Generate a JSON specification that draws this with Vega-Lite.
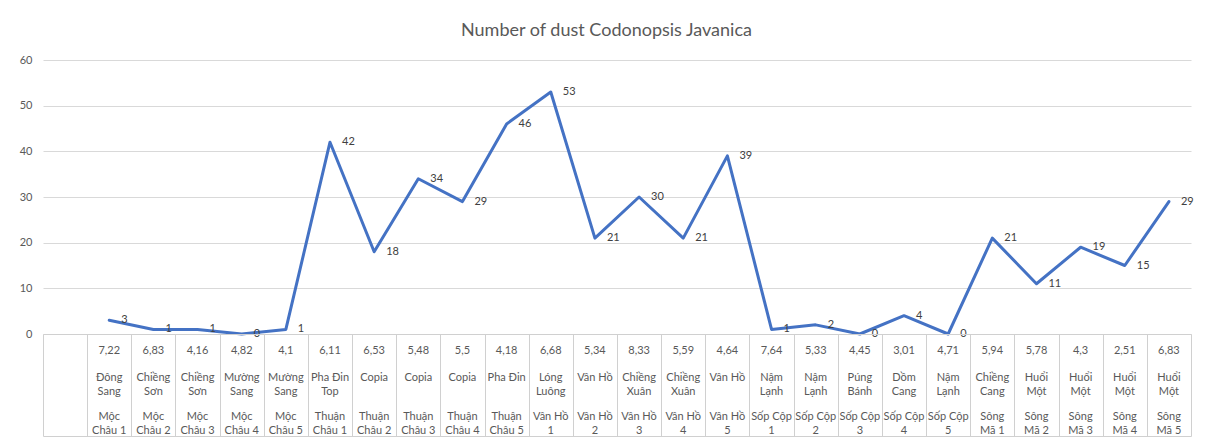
{
  "$schema": "https://vega.github.io/schema/vega-lite/v6.json",
  "autosize": {"type": "pad"},
  "padding": {"left": 19, "top": 22, "right": 0, "bottom": 0},
  "background": "white",
  "bounds": "flush",
  "spacing": 0,
  "title": {"text": "Number of dust Codonopsis Javanica", "font": "Lato", "fontSize": 18, "fontWeight": "normal", "color": "#595959", "anchor": "middle", "offset": 14},
  "config": {"font": "Lato", "view": {"stroke": null}},
  "data": {"values": [
    {"idx": 1, "val": 3, "num": "7,22", "name": "Đông\nSang", "site": "Mộc\nChâu 1"},
    {"idx": 2, "val": 1, "num": "6,83", "name": "Chiềng\nSơn", "site": "Mộc\nChâu 2"},
    {"idx": 3, "val": 1, "num": "4,16", "name": "Chiềng\nSơn", "site": "Mộc\nChâu 3"},
    {"idx": 4, "val": 0, "num": "4,82", "name": "Mường\nSang", "site": "Mộc\nChâu 4"},
    {"idx": 5, "val": 1, "num": "4,1", "name": "Mường\nSang", "site": "Mộc\nChâu 5"},
    {"idx": 6, "val": 42, "num": "6,11", "name": "Pha Đin\nTop", "site": "Thuận\nChâu 1"},
    {"idx": 7, "val": 18, "num": "6,53", "name": "Copia", "site": "Thuận\nChâu 2"},
    {"idx": 8, "val": 34, "num": "5,48", "name": "Copia", "site": "Thuận\nChâu 3"},
    {"idx": 9, "val": 29, "num": "5,5", "name": "Copia", "site": "Thuận\nChâu 4"},
    {"idx": 10, "val": 46, "num": "4,18", "name": "Pha Đin", "site": "Thuận\nChâu 5"},
    {"idx": 11, "val": 53, "num": "6,68", "name": "Lóng\nLuông", "site": "Vân Hồ\n1"},
    {"idx": 12, "val": 21, "num": "5,34", "name": "Vân Hồ", "site": "Vân Hồ\n2"},
    {"idx": 13, "val": 30, "num": "8,33", "name": "Chiềng\nXuân", "site": "Vân Hồ\n3"},
    {"idx": 14, "val": 21, "num": "5,59", "name": "Chiềng\nXuân", "site": "Vân Hồ\n4"},
    {"idx": 15, "val": 39, "num": "4,64", "name": "Vân Hồ", "site": "Vân Hồ\n5"},
    {"idx": 16, "val": 1, "num": "7,64", "name": "Nậm\nLạnh", "site": "Sốp Cộp\n1"},
    {"idx": 17, "val": 2, "num": "5,33", "name": "Nậm\nLạnh", "site": "Sốp Cộp\n2"},
    {"idx": 18, "val": 0, "num": "4,45", "name": "Púng\nBánh", "site": "Sốp Cộp\n3"},
    {"idx": 19, "val": 4, "num": "3,01", "name": "Dồm\nCang", "site": "Sốp Cộp\n4"},
    {"idx": 20, "val": 0, "num": "4,71", "name": "Nậm\nLạnh", "site": "Sốp Cộp\n5"},
    {"idx": 21, "val": 21, "num": "5,94", "name": "Chiềng\nCang", "site": "Sông\nMã 1"},
    {"idx": 22, "val": 11, "num": "5,78", "name": "Huổi\nMột", "site": "Sông\nMã 2"},
    {"idx": 23, "val": 19, "num": "4,3", "name": "Huổi\nMột", "site": "Sông\nMã 3"},
    {"idx": 24, "val": 15, "num": "2,51", "name": "Huổi\nMột", "site": "Sông\nMã 4"},
    {"idx": 25, "val": 29, "num": "6,83", "name": "Huổi\nMột", "site": "Sông\nMã 5"}
  ]},
  "vconcat": [
    {
      "width": 1148,
      "height": 274,
      "encoding": {
        "x": {"field": "idx", "type": "quantitative", "scale": {"domain": [-0.5, 25.5], "nice": false, "zero": false}, "axis": null},
        "y": {"field": "val", "type": "quantitative", "scale": {"domain": [0, 60], "nice": false},
              "axis": {"values": [0, 10, 20, 30, 40, 50, 60], "title": null, "domain": false, "ticks": false, "grid": true, "gridColor": "#d9d9d9", "gridWidth": 1, "labelColor": "#595959", "labelFont": "Lato", "labelFontSize": 11, "labelPadding": 11}}
      },
      "layer": [
        {"mark": {"type": "line", "color": "#4472C4", "strokeWidth": 3, "strokeJoin": "round", "strokeCap": "round"}},
        {"mark": {"type": "text", "align": "left", "baseline": "middle", "dx": 12, "font": "Lato", "fontSize": 11, "color": "#404040"},
         "encoding": {"text": {"field": "val", "type": "quantitative"}}}
      ]
    },
    {
      "width": 1148,
      "height": 102,
      "view": {"stroke": "#d0d0d0", "strokeWidth": 1},
      "encoding": {
        "x": {"field": "idx", "type": "quantitative", "scale": {"domain": [-0.5, 25.5], "nice": false, "zero": false},
              "axis": {"values": [0.5, 1.5, 2.5, 3.5, 4.5, 5.5, 6.5, 7.5, 8.5, 9.5, 10.5, 11.5, 12.5, 13.5, 14.5, 15.5, 16.5, 17.5, 18.5, 19.5, 20.5, 21.5, 22.5, 23.5, 24.5], "labels": false, "ticks": false, "domain": false, "title": null, "grid": true, "gridColor": "#d0d0d0", "gridWidth": 1}}
      },
      "layer": [
        {
          "transform": [{"fold": ["num", "site"], "as": ["key", "label"]}],
          "mark": {"type": "text", "align": "center", "baseline": "middle", "lineBreak": "\n", "lineHeight": 14, "font": "Lato", "fontSize": 11, "color": "#595959"},
          "encoding": {
            "y": {"field": "key", "type": "ordinal", "scale": {"type": "point", "domain": ["num", "name", "site"], "padding": 0.545, "align": 0.472}, "axis": null},
            "text": {"field": "label", "type": "nominal"}
          }
        },
        {
          "mark": {"type": "text", "align": "center", "baseline": "top", "dy": -12, "lineBreak": "\n", "lineHeight": 14, "font": "Lato", "fontSize": 11, "color": "#595959"},
          "encoding": {
            "y": {"datum": "name", "type": "ordinal"},
            "text": {"field": "name", "type": "nominal"}
          }
        }
      ]
    }
  ]
}
